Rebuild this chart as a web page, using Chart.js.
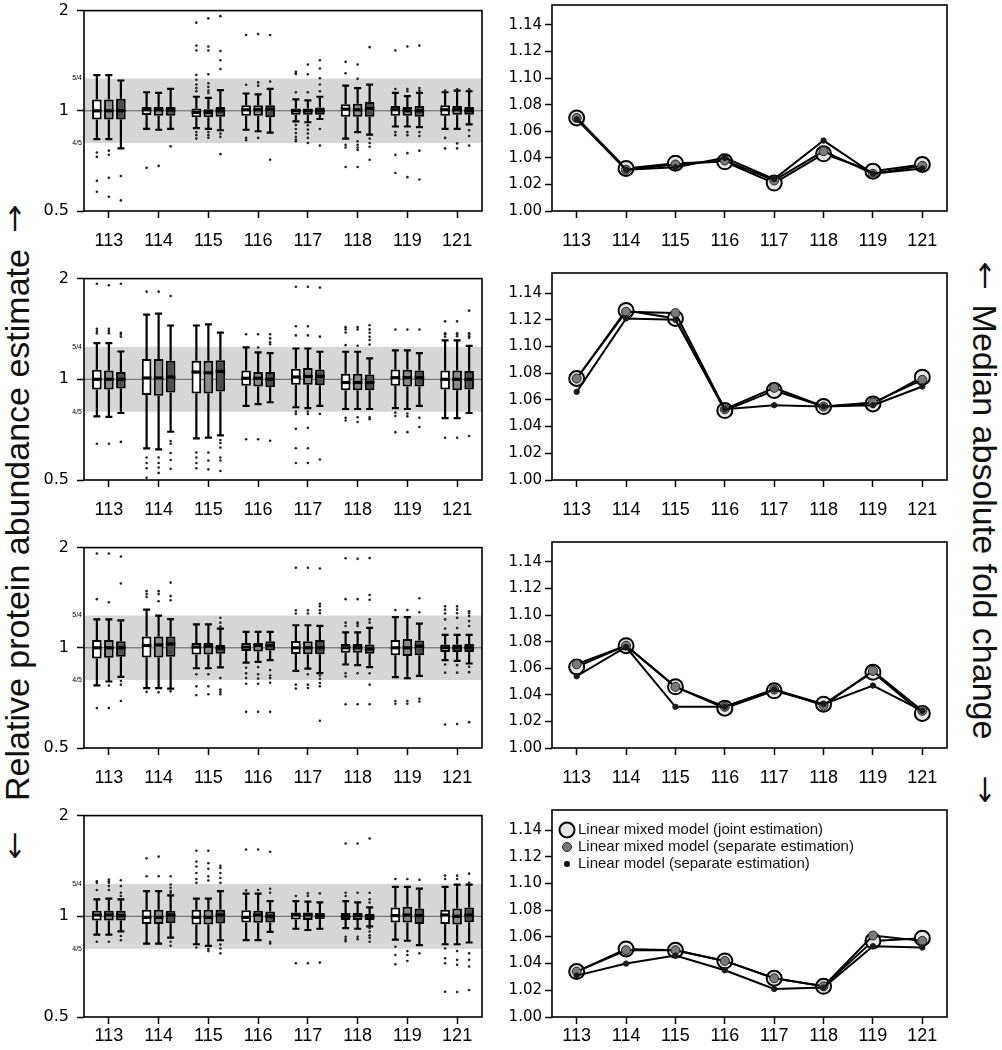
<!DOCTYPE html>
<html>
<head>
<meta charset="utf-8">
<script src="https://cdn.jsdelivr.net/npm/chart.js@4.4.1/dist/chart.umd.min.js"></script>
<style>
body{margin:0;background:#fff;}
#page{position:relative;width:1002px;height:1050px;overflow:hidden;font-family:"Liberation Sans",Arial,sans-serif;color:#111;}
.panel{position:absolute;}
.side{position:absolute;font-size:34px;line-height:1;white-space:nowrap;transform-origin:center center;color:#111;}
.arrow{position:absolute;font-family:"DejaVu Sans",sans-serif;font-size:34px;line-height:1;color:#111;transform:translate(-50%,-50%) scaleX(0.8);}
</style>
</head>
<body>
<div id="page">
  <div class="side" style="left:17px;top:525px;transform:translate(-50%,-50%) rotate(-90deg)">Relative protein abundance estimate</div>
  <div class="arrow" style="left:15px;top:219px">&#x2191;&#xFE0E;</div>
  <div class="arrow" style="left:15px;top:846px">&#x2193;&#xFE0E;</div>
  <div class="side" style="left:985px;top:522px;transform:translate(-50%,-50%) rotate(90deg)">Median absolute fold change</div>
  <div class="arrow" style="left:985px;top:276px">&#x2191;&#xFE0E;</div>
  <div class="arrow" style="left:985px;top:790px">&#x2193;&#xFE0E;</div>
</div>
<script>
// channels on the x axis
const tags = ['113', '114', '115', '116', '117', '118', '119', '121'];

// left: relative abundance (log2 axis)
const logTicks = [0.5, 1, 2];
const logTickLabels = ['0.5', '1', '2'];
const bandTicks = [0.8, 1.25];
const bandTickLabels = ['4/5', '5/4'];

// right: median absolute fold change
const foldTicks = [1.00, 1.02, 1.04, 1.06, 1.08, 1.10, 1.12, 1.14];
const legendLabels = ['Linear mixed model (joint estimation)', 'Linear mixed model (separate estimation)', 'Linear model (separate estimation)'];

// box stats per channel: [lower whisker, q1, median, q3, upper whisker]
const box1White = [[0.822,0.941,1.000,1.082,1.280],[0.883,0.971,1.007,1.027,1.137],[0.887,0.956,0.989,1.016,1.102],[0.877,0.967,1.007,1.039,1.127],[0.930,0.973,1.000,1.016,1.082],[0.825,0.960,1.011,1.046,1.190],[0.897,0.967,1.007,1.034,1.132],[0.883,0.967,1.007,1.039,1.137]];
const box1Gray  = [[0.822,0.941,1.000,1.082,1.280],[0.877,0.967,1.007,1.027,1.132],[0.883,0.956,0.989,1.011,1.094],[0.868,0.967,1.007,1.039,1.120],[0.924,0.973,1.000,1.016,1.075],[0.863,0.960,1.007,1.050,1.170],[0.897,0.967,1.000,1.027,1.107],[0.883,0.973,1.007,1.034,1.150]];
const box1Dark  = [[0.771,0.941,1.000,1.087,1.233],[0.883,0.967,1.005,1.027,1.163],[0.874,0.960,1.000,1.027,1.153],[0.860,0.956,1.011,1.039,1.163],[0.945,0.973,1.000,1.023,1.102],[0.848,0.960,1.016,1.063,1.198],[0.893,0.960,1.000,1.034,1.132],[0.910,0.973,1.000,1.027,1.145]];
const out1White = [[0.749,0.727,0.616,0.571],[0.674],[1.84,1.571,1.518,1.282,1.239,1.20,1.17,1.145,0.863,0.845,0.825],[1.69,1.198,0.829,0.816],[1.31,1.30,1.29,1.137,0.907,0.882,0.858,0.836,0.82,0.81],[1.403,1.296,0.79,0.776,0.678],[1.518,1.163,0.863,0.845,0.737,0.65],[1.15,0.829,0.771]];
const out1Gray  = [[0.759,0.738,0.629,0.552],[0.683],[1.895,1.56,1.518,1.288,1.21,1.18,1.15,1.132,0.863,0.845,0.83],[1.70,1.217,1.19,0.829],[1.378,1.288,1.137,0.905,0.878,0.855,0.829,0.80],[1.378,1.248,0.81,0.79,0.776,0.763,0.678],[1.56,1.163,1.145,0.863,0.845,0.746,0.632],[1.16,0.798,0.771]];
const out1Dark  = [[0.637,0.538],[0.782],[1.925,1.512,1.419,1.335,0.854,0.835,0.741],[1.69,1.225,0.713],[1.419,1.34,1.253,1.20,1.145,0.882,0.786],[1.553,0.825,0.80,0.78,0.713],[1.57,1.17,1.15,0.863,0.84,0.759,0.622],[1.16,0.874,0.84,0.786]];

const box2White = [[0.775,0.933,1.000,1.068,1.282],[0.622,0.897,1.009,1.150,1.560],[0.666,0.907,1.051,1.137,1.448],[0.833,0.956,1.007,1.063,1.245],[0.825,0.964,1.016,1.075,1.236],[0.815,0.928,0.978,1.039,1.209],[0.820,0.956,1.011,1.070,1.220],[0.766,0.933,1.000,1.063,1.308]];
const box2Gray  = [[0.772,0.933,1.000,1.063,1.282],[0.617,0.893,1.009,1.150,1.572],[0.669,0.907,1.046,1.137,1.460],[0.843,0.951,1.007,1.051,1.203],[0.820,0.964,1.020,1.080,1.236],[0.815,0.928,0.978,1.039,1.209],[0.815,0.951,1.011,1.068,1.220],[0.766,0.928,1.000,1.063,1.308]];
const box2Dark  = [[0.793,0.939,1.000,1.051,1.211],[0.697,0.913,1.016,1.137,1.448],[0.680,0.920,1.056,1.140,1.378],[0.854,0.946,1.000,1.051,1.198],[0.833,0.960,1.020,1.070,1.209],[0.815,0.928,0.978,1.033,1.155],[0.833,0.951,1.011,1.063,1.198],[0.793,0.933,1.000,1.058,1.259]];
const out2White = [[1.93,1.416,1.394,1.372,0.642],[1.828,0.584,0.562,0.542,0.508],[0.604,0.584,0.562,0.542],[1.363,0.662],[1.89,1.441,1.353,0.801,0.788,0.711,0.622,0.562],[1.432,1.41,1.38,1.265,0.767,0.753],[1.409,0.795,0.777,0.695],[1.49,1.372,1.363,1.341,0.669]];
const out2Gray  = [[1.91,1.416,1.394,1.372,0.642],[1.828,0.584,0.562,0.545,0.525],[0.604,0.572,0.538],[1.363,1.245,0.662],[1.89,1.441,1.353,0.801,0.788,0.716,0.622,0.562],[1.432,1.41,1.26,0.77,0.745],[1.409,0.79,0.775,0.695],[1.49,1.372,1.363,1.345,0.669]];
const out2Dark  = [[1.93,1.378,1.363,1.341,0.65],[1.774,0.654,0.642,0.602,0.574,0.540],[0.658,0.645,0.625,0.584,0.572,0.532],[1.363,1.325,1.29,1.273,0.655],[1.88,1.341,0.788,0.576],[1.45,1.41,1.378,1.34,1.31,1.27,0.77,0.76],[1.409,0.767,0.72],[1.604,1.372,1.363,1.345,1.33,0.677]];

const box3White = [[0.771,0.928,1.000,1.056,1.217],[0.757,0.935,1.016,1.082,1.302],[0.868,0.954,1.005,1.034,1.176],[0.902,0.978,1.005,1.034,1.117],[0.853,0.958,1.000,1.048,1.169],[0.891,0.967,1.000,1.027,1.112],[0.816,0.949,1.000,1.056,1.236],[0.918,0.971,1.000,1.023,1.094]];
const box3Gray  = [[0.792,0.933,1.000,1.056,1.217],[0.757,0.935,1.020,1.082,1.250],[0.868,0.954,1.011,1.034,1.176],[0.907,0.975,1.016,1.034,1.117],[0.866,0.956,1.000,1.046,1.169],[0.887,0.967,1.000,1.027,1.112],[0.810,0.945,1.000,1.063,1.236],[0.914,0.971,1.000,1.023,1.094]];
const box3Dark  = [[0.818,0.940,1.000,1.046,1.209],[0.754,0.940,1.027,1.082,1.220],[0.873,0.960,0.998,1.020,1.142],[0.918,0.982,1.016,1.046,1.117],[0.839,0.956,1.000,1.056,1.163],[0.875,0.960,0.993,1.023,1.148],[0.823,0.949,1.011,1.051,1.182],[0.897,0.971,1.000,1.027,1.094]];
const out3White = [[1.92,1.40,0.659],[1.48,1.45,1.42,0.737],[0.833,0.766,0.721],[0.871,0.838,0.811,0.78,0.642],[1.74,1.297,1.268,0.775,0.754],[1.857,1.40,1.19,1.163,0.839,0.82,0.677],[1.298,0.692,0.679],[1.332,1.302,1.268,1.217,1.142,0.891,0.842,0.588]];
const out3Gray  = [[1.92,1.37,0.77,0.659],[1.48,1.45,1.38,0.735],[0.833,0.766,0.725],[0.875,0.833,0.808,0.78,0.642],[1.74,1.297,1.268,0.833,0.775,0.757],[1.85,1.40,1.19,1.18,1.163,0.839,0.677],[1.298,0.692,0.679],[1.332,1.302,1.27,1.23,1.146,0.887,0.842,0.59]];
const out3Dark  = [[1.88,1.56,0.795,0.775,0.692],[1.57,1.43,1.39,0.74],[1.231,1.19,1.158,0.811,0.749,0.737,0.725],[0.857,0.826,0.811,0.785,0.642],[1.73,1.356,1.332,1.297,1.27,0.826,0.807,0.784,0.766,0.604],[1.86,1.441,1.394,1.217,1.19,0.839,0.775,0.677],[1.409,1.279,0.703,0.69],[1.288,1.27,1.245,1.203,1.163,0.877,0.845,0.598]];

const box4White = [[0.881,0.971,1.009,1.039,1.124],[0.829,0.949,0.993,1.046,1.190],[0.825,0.945,0.993,1.046,1.130],[0.849,0.958,0.993,1.042,1.169],[0.918,0.978,1.009,1.027,1.110],[0.922,0.975,1.000,1.023,1.110],[0.852,0.958,1.005,1.063,1.225],[0.825,0.949,1.009,1.046,1.225]];
const box4Gray  = [[0.881,0.971,1.009,1.039,1.130],[0.829,0.949,0.993,1.046,1.190],[0.816,0.945,0.993,1.046,1.130],[0.849,0.956,1.009,1.039,1.169],[0.910,0.975,1.009,1.027,1.107],[0.918,0.975,1.005,1.023,1.100],[0.845,0.958,1.009,1.068,1.225],[0.825,0.945,1.000,1.056,1.244]];
const box4Dark  = [[0.901,0.971,1.005,1.039,1.124],[0.863,0.954,1.009,1.039,1.155],[0.848,0.951,1.009,1.046,1.190],[0.898,0.958,1.000,1.034,1.110],[0.918,0.982,1.005,1.023,1.100],[0.933,0.975,0.993,1.016,1.063],[0.820,0.949,1.005,1.056,1.210],[0.835,0.960,1.009,1.063,1.244]];
const out4White = [[1.273,1.259,1.198,0.839],[1.491,1.317],[1.571,1.458,1.409,1.347,1.293,1.259,0.807],[1.584,1.195],[1.15,0.724],[1.651,1.176,1.15,0.868,0.854,0.842],[1.293,0.811,0.766,0.719],[1.323,1.293,0.801,0.749,0.724,0.595]];
const out4Gray  = [[1.288,1.273,1.259,1.231,1.198,0.839],[1.508,1.317],[1.571,1.441,1.387,1.317,1.28,0.798,0.787],[1.584,1.198],[1.171,1.15,0.724],[1.651,1.176,0.868,0.854],[1.293,0.787,0.766,0.735],[1.323,1.293,0.787,0.741,0.716,0.594]];
const out4Dark  = [[1.282,1.231,1.176,1.15,0.873,0.848],[1.317,1.245,1.217,1.19,1.176,0.839,0.816],[1.416,1.394,1.347,1.302,1.259,0.823,0.801,0.775],[1.56,1.209,1.176,0.839,0.829],[1.171,0.727],[1.708,1.176,1.124,1.099,0.922,0.901,0.877,0.862,0.839],[1.285,0.775],[1.341,1.259,0.775,0.741,0.708,0.602]];

// median absolute fold change, one row per panel
const joint1  = [1.070, 1.032, 1.036, 1.037, 1.021, 1.043, 1.030, 1.035];
const mixed1  = [1.070, 1.031, 1.035, 1.038, 1.023, 1.045, 1.028, 1.034];
const linear1 = [1.069, 1.031, 1.033, 1.040, 1.024, 1.053, 1.028, 1.032];
const joint2  = [1.076, 1.127, 1.121, 1.052, 1.067, 1.055, 1.057, 1.077];
const mixed2  = [1.076, 1.126, 1.125, 1.053, 1.069, 1.055, 1.058, 1.075];
const linear2 = [1.066, 1.121, 1.120, 1.053, 1.056, 1.055, 1.056, 1.070];
const joint3  = [1.061, 1.077, 1.046, 1.030, 1.043, 1.033, 1.057, 1.026];
const mixed3  = [1.063, 1.077, 1.046, 1.031, 1.044, 1.032, 1.058, 1.028];
const linear3 = [1.054, 1.076, 1.031, 1.031, 1.044, 1.033, 1.047, 1.028];
const joint4  = [1.034, 1.051, 1.050, 1.042, 1.029, 1.023, 1.057, 1.059];
const mixed4  = [1.034, 1.050, 1.050, 1.042, 1.029, 1.023, 1.061, 1.057];
const linear4 = [1.031, 1.040, 1.046, 1.035, 1.021, 1.022, 1.053, 1.052];

// layout
const rowTop = [5, 273, 542, 810];
const rowBottom = [211, 480, 748, 1017];
const canvasH = [264, 264, 264, 252];
const labelPad = [12, 12, 12, 1];
const padTop = 12;

const boxFill = ['#ffffff', '#8a8a8a', '#4c4c4c'];
const markerR = [7.5, 4.5, 2.7];
const markerFill = ['#e6e6e6', '#7a7a7a', '#1a1a1a'];
const markerEdge = ['#000', '#222', '#1a1a1a'];
const markerEdgeW = [2, 1, 1];

Chart.defaults.font.family = '"Liberation Sans", Arial, sans-serif';
Chart.defaults.color = '#000';

function makeCanvas(left, r, width) {
  const c = document.createElement('canvas');
  c.width = width;
  c.height = canvasH[r];
  c.className = 'panel';
  c.style.left = left + 'px';
  c.style.top = (rowTop[r] - padTop) + 'px';
  document.getElementById('page').appendChild(c);
  return c;
}

function xAxis(r) {
  return {
    offset: true,
    grid: {offset: false, drawOnChartArea: false, tickLength: 7, tickColor: '#000', tickWidth: 1.5},
    border: {display: false},
    ticks: {font: {size: 18}, color: '#000', padding: labelPad[r], maxRotation: 0, autoSkip: false},
    afterFit: s => { s.height = canvasH[r] - padTop - (rowBottom[r] - rowTop[r]); }
  };
}

const framePlugin = {
  id: 'frame',
  afterDraw(chart) {
    const {ctx, chartArea: a} = chart;
    ctx.save();
    ctx.strokeStyle = '#000';
    ctx.lineWidth = 1.6;
    ctx.strokeRect(a.left, a.top, a.right - a.left, a.bottom - a.top);
    ctx.restore();
  }
};

const boxPlugin = {
  id: 'boxes',
  beforeDatasetsDraw(chart) {
    const {ctx, chartArea: a, scales: {y}} = chart;
    ctx.save();
    const yHi = y.getPixelForValue(bandTicks[1]);
    const yLo = y.getPixelForValue(bandTicks[0]);
    ctx.fillStyle = '#d6d6d6';
    ctx.fillRect(a.left, yHi, a.right - a.left, yLo - yHi);
    const y1 = y.getPixelForValue(1);
    ctx.strokeStyle = '#5e5e5e';
    ctx.lineWidth = 1;
    ctx.beginPath(); ctx.moveTo(a.left, y1); ctx.lineTo(a.right, y1); ctx.stroke();
    // whiskers
    ctx.strokeStyle = '#000';
    ctx.lineWidth = 2.2;
    chart.data.datasets.forEach((ds, k) => {
      chart.getDatasetMeta(k).data.forEach((bar, i) => {
        const s = ds.stats[i];
        const px = bar.x;
        const lo = y.getPixelForValue(s[0]), q1 = y.getPixelForValue(s[1]);
        const q3 = y.getPixelForValue(s[3]), hi = y.getPixelForValue(s[4]);
        ctx.beginPath();
        ctx.moveTo(px, q1); ctx.lineTo(px, lo);
        ctx.moveTo(px - 3.5, lo); ctx.lineTo(px + 3.5, lo);
        ctx.moveTo(px, q3); ctx.lineTo(px, hi);
        ctx.moveTo(px - 3.5, hi); ctx.lineTo(px + 3.5, hi);
        ctx.stroke();
      });
    });
    ctx.restore();
  },
  afterDatasetsDraw(chart) {
    const {ctx, chartArea: a, scales: {y}} = chart;
    ctx.save();
    chart.data.datasets.forEach((ds, k) => {
      chart.getDatasetMeta(k).data.forEach((bar, i) => {
        const px = bar.x, w = bar.width;
        const m = y.getPixelForValue(ds.stats[i][2]);
        ctx.strokeStyle = '#000';
        ctx.lineWidth = 3.2;
        ctx.beginPath(); ctx.moveTo(px - w / 2, m); ctx.lineTo(px + w / 2, m); ctx.stroke();
        ctx.fillStyle = '#222';
        ds.outliers[i].forEach(v => {
          ctx.beginPath();
          ctx.arc(px, y.getPixelForValue(v), 1.3, 0, Math.PI * 2);
          ctx.fill();
        });
      });
    });
    // small 4/5 and 5/4 labels
    ctx.fillStyle = '#000';
    ctx.font = '7px "Liberation Sans", Arial, sans-serif';
    ctx.textAlign = 'right';
    ctx.textBaseline = 'middle';
    bandTicks.forEach((v, j) => ctx.fillText(bandTickLabels[j], a.left - 2, y.getPixelForValue(v)));
    ctx.restore();
  }
};

const legendPlugin = {
  id: 'inlegend',
  afterDraw(chart) {
    const {ctx, chartArea: a} = chart;
    ctx.save();
    chart.data.datasets.forEach((ds, k) => {
      const cx = a.left + 15, cy = a.top + 20 + 17 * k;
      ctx.beginPath();
      ctx.arc(cx, cy, ds.pointRadius, 0, Math.PI * 2);
      ctx.fillStyle = ds.pointBackgroundColor;
      ctx.fill();
      ctx.lineWidth = ds.pointBorderWidth;
      ctx.strokeStyle = ds.pointBorderColor;
      ctx.stroke();
      ctx.fillStyle = '#111';
      ctx.font = '15px "Liberation Sans", Arial, sans-serif';
      ctx.textAlign = 'left';
      ctx.textBaseline = 'middle';
      ctx.fillText(ds.label, a.left + 26, cy);
    });
    ctx.restore();
  }
};

function boxChart(r, stats, outs) {
  new Chart(makeCanvas(40, r, 450), {
    type: 'bar',
    data: {
      labels: tags,
      datasets: stats.map((s, k) => ({
        data: s.map(b => [b[1], b[3]]),
        stats: s,
        outliers: outs[k],
        backgroundColor: boxFill[k],
        borderColor: '#000',
        borderWidth: 2,
        borderSkipped: false,
        categoryPercentage: 0.724,
        barPercentage: 0.8
      }))
    },
    options: {
      responsive: false,
      animation: false,
      layout: {padding: {top: padTop, right: 8}},
      plugins: {legend: {display: false}, tooltip: {enabled: false}},
      scales: {
        x: xAxis(r),
        y: {
          type: 'logarithmic', min: 0.5, max: 2,
          afterBuildTicks: s => { s.ticks = logTicks.map(v => ({value: v})); },
          ticks: {
            callback: v => logTickLabels[logTicks.indexOf(v)],
            font: {family: '"DejaVu Sans"', size: 16}, color: '#000', padding: 8
          },
          grid: {drawOnChartArea: false, tickLength: 7, tickColor: '#000', tickWidth: 1.5},
          border: {display: false},
          afterFit: s => { s.width = 44; }
        }
      }
    },
    plugins: [boxPlugin, framePlugin]
  });
}

function foldChart(r, series, withLegend) {
  new Chart(makeCanvas(490, r, 470), {
    type: 'line',
    data: {
      labels: tags,
      datasets: series.map((d, k) => ({
        label: legendLabels[k],
        data: d,
        order: 3 - k,
        borderColor: '#000',
        borderWidth: 2,
        pointRadius: markerR[k],
        pointBackgroundColor: markerFill[k],
        pointBorderColor: markerEdge[k],
        pointBorderWidth: markerEdgeW[k],
        tension: 0
      }))
    },
    options: {
      responsive: false,
      animation: false,
      layout: {padding: {top: padTop, right: 13}},
      plugins: {legend: {display: false}, tooltip: {enabled: false}},
      scales: {
        x: xAxis(r),
        y: {
          min: 1.0, max: 1.155,
          afterBuildTicks: s => { s.ticks = foldTicks.map(v => ({value: v})); },
          ticks: {callback: v => v.toFixed(2), font: {family: '"DejaVu Sans"', size: 15}, color: '#000', padding: 3},
          grid: {drawOnChartArea: false, tickLength: 7, tickColor: '#000', tickWidth: 1.5},
          border: {display: false},
          afterFit: s => { s.width = 62; }
        }
      }
    },
    plugins: withLegend ? [framePlugin, legendPlugin] : [framePlugin]
  });
}

boxChart(0, [box1White, box1Gray, box1Dark], [out1White, out1Gray, out1Dark]);
boxChart(1, [box2White, box2Gray, box2Dark], [out2White, out2Gray, out2Dark]);
boxChart(2, [box3White, box3Gray, box3Dark], [out3White, out3Gray, out3Dark]);
boxChart(3, [box4White, box4Gray, box4Dark], [out4White, out4Gray, out4Dark]);

foldChart(0, [joint1, mixed1, linear1], false);
foldChart(1, [joint2, mixed2, linear2], false);
foldChart(2, [joint3, mixed3, linear3], false);
foldChart(3, [joint4, mixed4, linear4], true);
</script>
</body>
</html>
